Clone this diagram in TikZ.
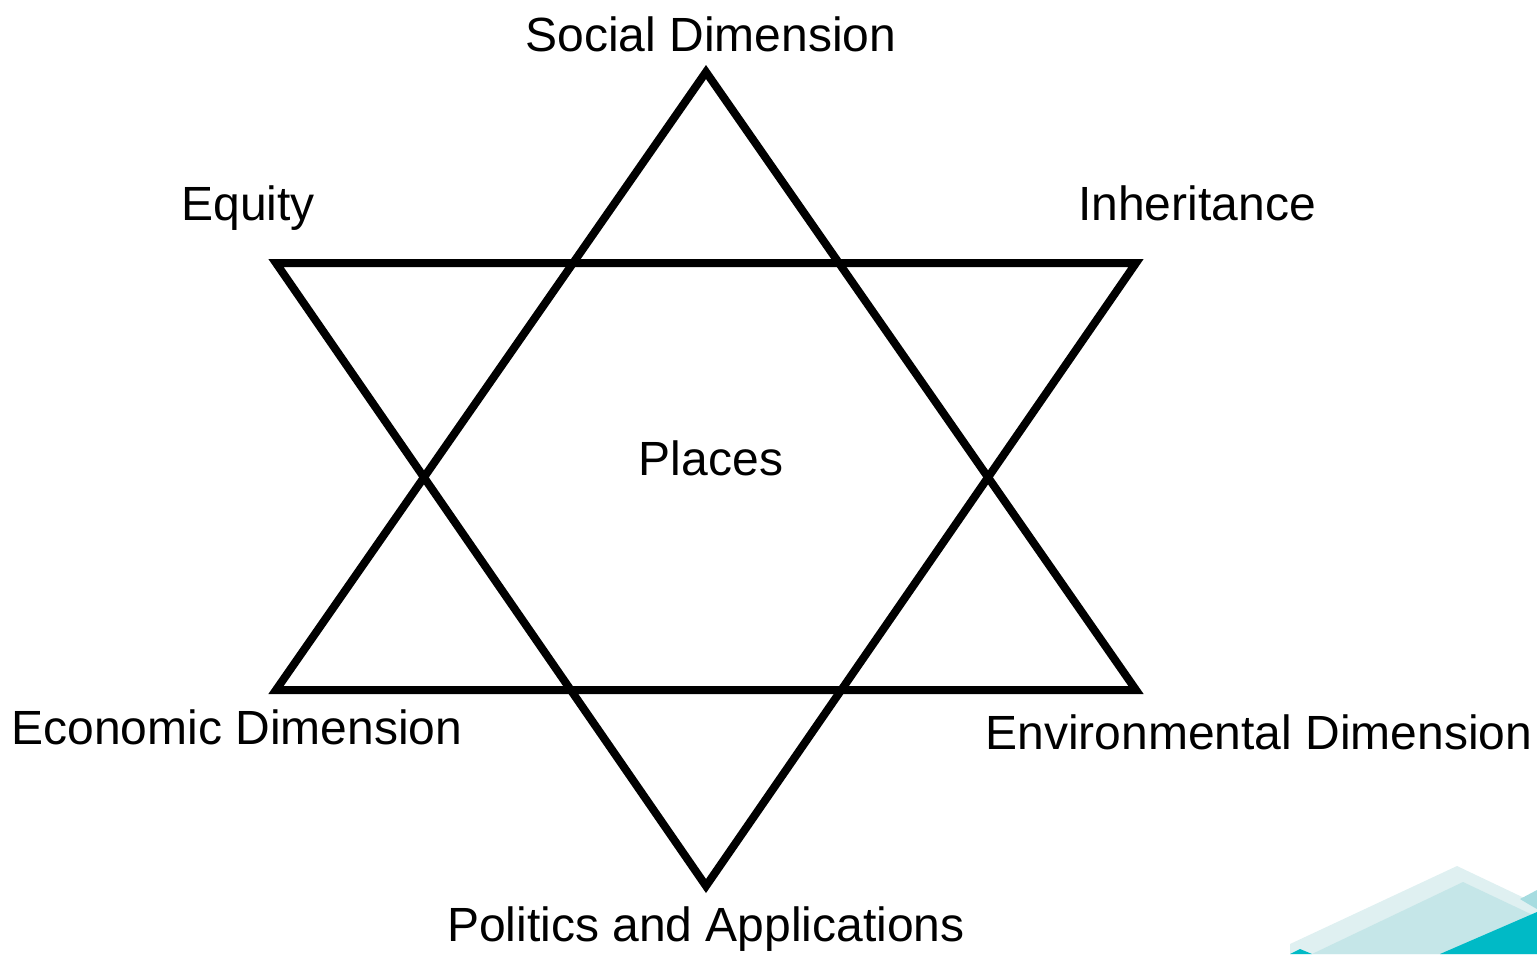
\documentclass[tikz,border=0pt]{standalone}
\usepackage{fontspec}
\setmainfont{Liberation Sans}
\definecolor{tealA}{HTML}{DFF0F1}
\definecolor{tealB}{HTML}{C5E6E8}
\definecolor{tealC}{HTML}{A6DCE0}
\definecolor{tealD}{HTML}{00BAC6}
\begin{document}
\begin{tikzpicture}[x=0.5pt,y=-0.5pt,
  lbl/.style={inner sep=0pt,anchor=base,font=\fontsize{24pt}{28pt}\selectfont},
  tri/.style={draw=black,line width=4pt,line join=miter}]
\useasboundingbox (0,0) rectangle (1537,954);
% decoration
\fill[tealA] (1290,944) -- (1457,866) -- (1537,904) -- (1537,954) -- (1290,954) -- cycle;
\fill[tealB] (1312,954) -- (1463,882) -- (1537,917) -- (1537,954) -- cycle;
\fill[tealC] (1520,899) -- (1537,890) -- (1537,909) -- (1530,905) -- cycle;
\fill[tealD] (1537,912) -- (1537,954) -- (1440,954) -- cycle;
\fill[tealD] (1290,954) -- (1300,949) -- (1312,954) -- cycle;
% star
\coordinate (uA) at (706,72);
\coordinate (uL) at (276,690);
\coordinate (uR) at (1136,690);
\coordinate (dA) at (706,886);
\coordinate (dL) at (276,263);
\coordinate (dR) at (1136,263);
\draw[tri] (uA) -- (uL) -- (uR) -- cycle;
\draw[tri] (dA) -- (dL) -- (dR) -- cycle;
% labels
\node[lbl] (soc) at (711,51) {Social Dimension};
\node[lbl] (eq) at (248,220) {Equity};
\node[lbl] (inh) at (1197,220) {Inheritance};
\node[lbl] (pl) at (711,475) {Places};
\node[lbl] (eco) at (237,744) {Economic Dimension};
\node[lbl] (env) at (1259,749) {Environmental Dimension};
\node[lbl] (pol) at (706,941) {Politics and Applications};
\end{tikzpicture}
\end{document}
